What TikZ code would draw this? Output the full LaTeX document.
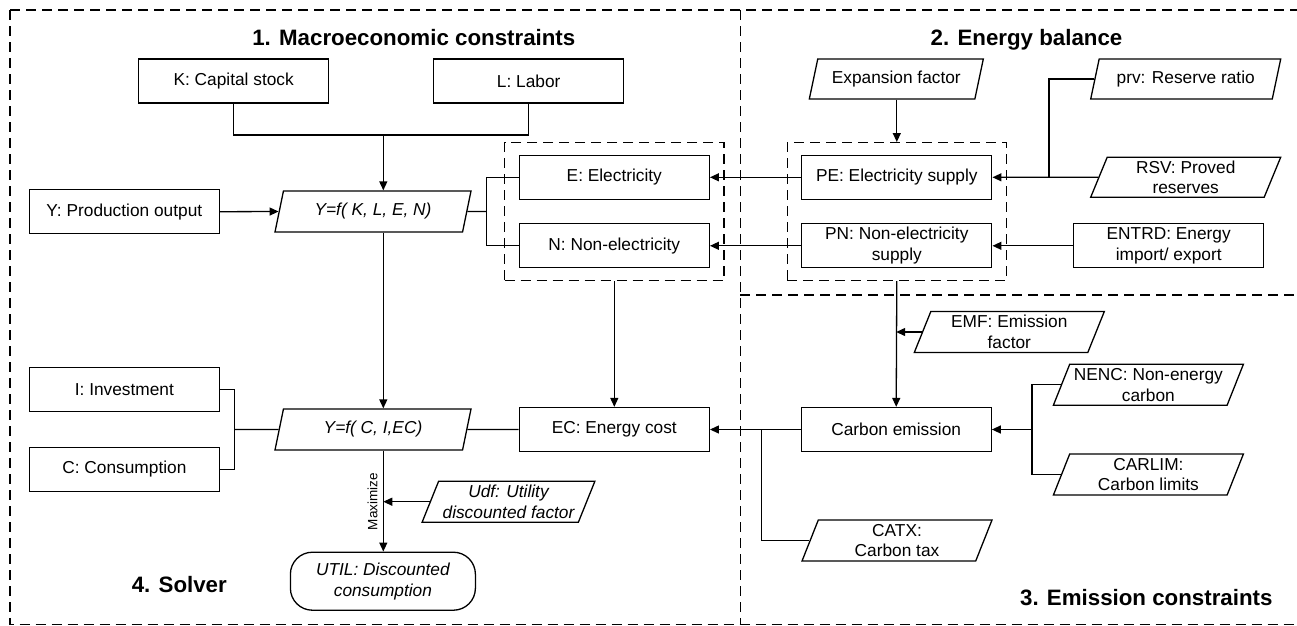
\documentclass[tikz,border=0pt]{standalone}
\usepackage{fontspec}
\setmainfont{Liberation Sans}
\usetikzlibrary{arrows.meta, shapes.geometric, fit}

\begin{document}
\begin{tikzpicture}[x=1pt, y=-1pt, line width=1.3pt,
  font=\fontsize{17.3}{20.7}\selectfont,
  box/.style={draw, minimum width=190pt, minimum height=44pt, align=center,
    inner xsep=4pt, inner ysep=1.5pt},
  para/.style={draw, trapezium, trapezium left angle=65, trapezium right angle=115,
    trapezium stretches body=true, minimum width=190pt, minimum height=41pt,
    align=center, inner xsep=4pt, inner ysep=1pt},
  grp/.style={draw, dash pattern=on 10pt off 6pt, inner xsep=14pt, inner ysep=12pt},
  panel/.style={dash pattern=on 10pt off 6pt},
  ttl/.style={font=\fontsize{22.3}{26}\selectfont\bfseries, anchor=base},
  arr/.style={-{Triangle[length=9pt,width=8pt]}},
]
  \useasboundingbox (0,0) rectangle (1297,625);
  \clip (0,0) rectangle (1297,625);

  % panels
  \draw[panel] (10,10) -- (1400,10);
  \draw[panel] (10,10) -- (10,624.5) -- (1400,624.5);
  \draw[panel] (740.3,10) -- (740.3,624.5);
  \draw[panel] (740.3,295) -- (1400,295);
  \node[ttl] (ttlmacro) at (413.8,45) {1. Macroeconomic constraints};
  \node[ttl] (ttlenergy) at (1026.5,45) {2. Energy balance};
  \node[ttl] (ttlemis) at (1146.3,605) {3. Emission constraints};
  \node[ttl] (ttlsolver) at (179.3,592.5) {4. Solver};

  % 1. macroeconomic constraints
  \node[box] (kcap) at (233.7,81) {K: Capital stock};
  \node[box] (labor) at (528.7,81) {L: Labor};
  \node[box] (yprod) at (124.3,211.7) {Y: Production output};
  \node[para, minimum width=196pt] (fkle) at (373,211.5) {\itshape Y=f( K, L, E, N)};
  \node[box] (elec) at (614.3,177.3) {E: Electricity};
  \node[box] (nonelec) at (614.3,245.8) {N: Non-electricity};
  \node[grp, fit=(elec)(nonelec)] (grpEN) {};

  % 2. energy balance
  \node[box] (pesup) at (896.8,177.3) {PE: Electricity supply};
  \node[box] (pnsup) at (896.8,245.8) {PN: Non-electricity\\supply};
  \node[grp, fit=(pesup)(pnsup)] (grpP) {};
  \node[para, minimum width=174pt, minimum height=40pt] (expan) at (896.3,79) {Expansion factor};
  \node[para, minimum height=40pt] (prv) at (1185.7,79) {prv: Reserve ratio};
  \node[para, minimum height=40pt] (rsv) at (1185.7,177.2) {RSV: Proved\\reserves};
  \node[box] (entrd) at (1168.7,245.8) {ENTRD: Energy\\import/ export};

  % 3. emission constraints
  \node[para] (emf) at (1009.3,332) {EMF: Emission\\factor};
  \node[box] (carbon) at (896.2,429.5) {Carbon emission};
  \node[para] (nenc) at (1148.4,384.7) {NENC: Non-energy\\carbon};
  \node[para] (carlim) at (1148.4,474.5) {CARLIM:\\Carbon limits};
  \node[para] (catx) at (897,540.5) {CATX:\\Carbon tax};

  % 4. solver
  \node[box] (ecost) at (614.3,429.5) {EC: Energy cost};
  \node[para, minimum width=196pt] (fcie) at (373,429.5) {\itshape Y=f( C, I,EC)};
  \node[box] (invest) at (124.4,389.7) {I: Investment};
  \node[box] (consum) at (124.4,469.2) {C: Consumption};
  \node[para, minimum width=163pt] (udf) at (508.5,501.7) {\itshape Udf: Utility\\\itshape discounted factor};
  \node[draw, rounded corners=22pt, minimum width=185pt, minimum height=58pt, align=center,
    inner ysep=1pt] (util) at (382.9,581.2) {\itshape UTIL: Discounted\\\itshape consumption};
  \node[rotate=90, font=\fontsize{13.5}{15}\selectfont] (maxlbl) at (372.5,501.7) {Maximize};

  % junctions
  \coordinate (kl) at (383.3,135);
  \coordinate (enj) at (486.3,211.5);
  \coordinate (rj) at (1049,177.3);
  \coordinate (cj) at (1032.1,429.5);
  \coordinate (tj) at (761.5,429.5);
  \coordinate (icj) at (234.7,429.5);

  % connectors
  \draw (kcap.south) |- (kl) -| (labor.south);
  \draw[arr] (kl) -- (kl |- fkle.north);
  \draw[arr] (yprod.east) -- (fkle.180);
  \draw (fkle.0) -- (enj);
  \draw (elec.west) -- (elec.west -| enj) -- (nonelec.west -| enj) -- (nonelec.west);
  \draw[arr] (kl |- fkle.south) -- (kl |- fcie.north);
  \draw[arr] (grpEN.south) -- (ecost.north);
  \draw[arr] (pesup.west) -- (elec.east);
  \draw[arr] (pnsup.west) -- (nonelec.east);
  \draw[arr] (grpP.north |- expan.south) -- (grpP.north);
  \draw (prv.180) -| (rj);
  \draw[arr] (rsv.180) -- (pesup.east);
  \draw[arr] (entrd.west) -- (pnsup.east);
  \draw[arr] (grpP.south) -- (carbon.north);
  \draw[arr] (emf.180) -- (emf.180 -| carbon.north);
  \draw (nenc.180) -| (cj) |- (carlim.180);
  \draw[arr] (cj) -- (carbon.east);
  \draw[arr] (carbon.west) -- (ecost.east);
  \draw (tj) |- (catx.180);
  \draw (fcie.0) -- (ecost.west);
  \draw (invest.east) -| (icj) |- (consum.east);
  \draw (icj) -- (fcie.180);
  \draw[arr] (kl |- fcie.south) -- (kl |- util.north);
  \draw[arr] (udf.180) -- (udf.180 -| kl);
\end{tikzpicture}
\end{document}
